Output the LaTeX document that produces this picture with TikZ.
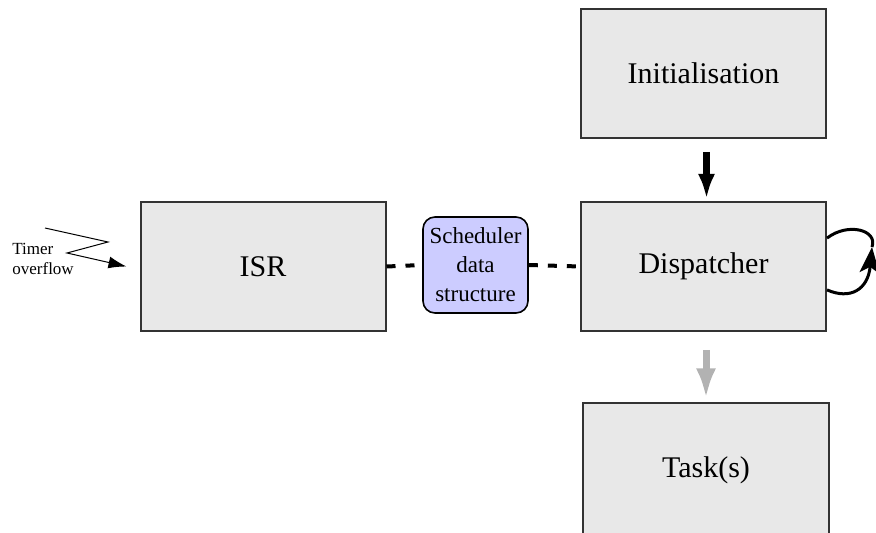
\documentclass[tikz,border=0pt]{standalone}
\usepackage{fontspec}
\setmainfont{Liberation Serif}
\usetikzlibrary{arrows.meta}
\definecolor{boxgray}{RGB}{232,232,232}
\definecolor{boxline}{RGB}{51,51,51}
\definecolor{datablue}{RGB}{204,204,255}
\definecolor{arrowgray}{RGB}{178,178,178}

\begin{document}
\begin{tikzpicture}[x=0.5pt,y=-0.5pt]
\tikzstyle{every node}+=[inner sep=0pt]
\tikzstyle{block}=[draw=boxline, fill=boxgray, line width=1pt, minimum width=122.5pt, minimum height=64.5pt, font=\fontsize{15}{18}\selectfont]
\tikzstyle{datastore}=[draw=black, fill=datablue, rounded corners=6pt, line width=0.8pt, minimum width=52.5pt, minimum height=48pt, align=center, font=\fontsize{11.5}{14.5}\selectfont]
\tikzstyle{flow}=[line width=3.5pt, -{Latex[length=12.5pt,width=8.5pt]}]
\tikzstyle{link}=[line width=2pt, dash pattern=on 4.5pt off 5pt]
\tikzstyle{loopline}=[line width=1.5pt]
\useasboundingbox (0,0) rectangle (876,533);
\node [block] (init) at (703.5,73.5) {Initialisation};
\node [block] (disp) at (703.5,266.5) {Dispatcher};
\node [block] (isr) at (263,266.5) {ISR};
\node [block, minimum width=123pt, minimum height=67.5pt] (task) at (706,470) {Task(s)};
\node [datastore] (sched) at (475.5,265) {Scheduler\\data\\structure};
\node [anchor=west, align=left, font=\fontsize{8.5}{10}\selectfont] (timer) at (12,259) {Timer\\overflow};
\draw [link] (isr.east) -- (sched.west);
\draw [link] (sched.east) -- (disp.west);
\draw [flow, shorten <=6.5pt, shorten >=1pt] ([xshift=1.5pt]init.south) -- ([xshift=1.5pt]disp.north);
\draw [flow, arrowgray, -{Latex[length=15pt,width=10pt]}, shorten <=9pt, shorten >=1.5pt] ([xshift=1.25pt]disp.south) -- (task.north);
\coordinate (loopmid) at (872,247);
\draw [loopline, -{Stealth[length=13pt,width=10pt,inset=3pt]}] ([yshift=-11.7pt]disp.east) .. controls (850,300) and (868,290) .. (loopmid);
\draw [loopline] (loopmid) .. controls (878,230) and (848,222) .. ([yshift=14.2pt]disp.east);
\coordinate (zap1) at (45,228);
\coordinate (zap2) at (108,242);
\coordinate (zap3) at (67,253);
\draw [line width=0.5pt, -{Latex[length=9pt,width=6pt]}] (zap1) -- (zap2) -- (zap3) -- ([xshift=-6.5pt]isr.west);
\end{tikzpicture}
\end{document}
